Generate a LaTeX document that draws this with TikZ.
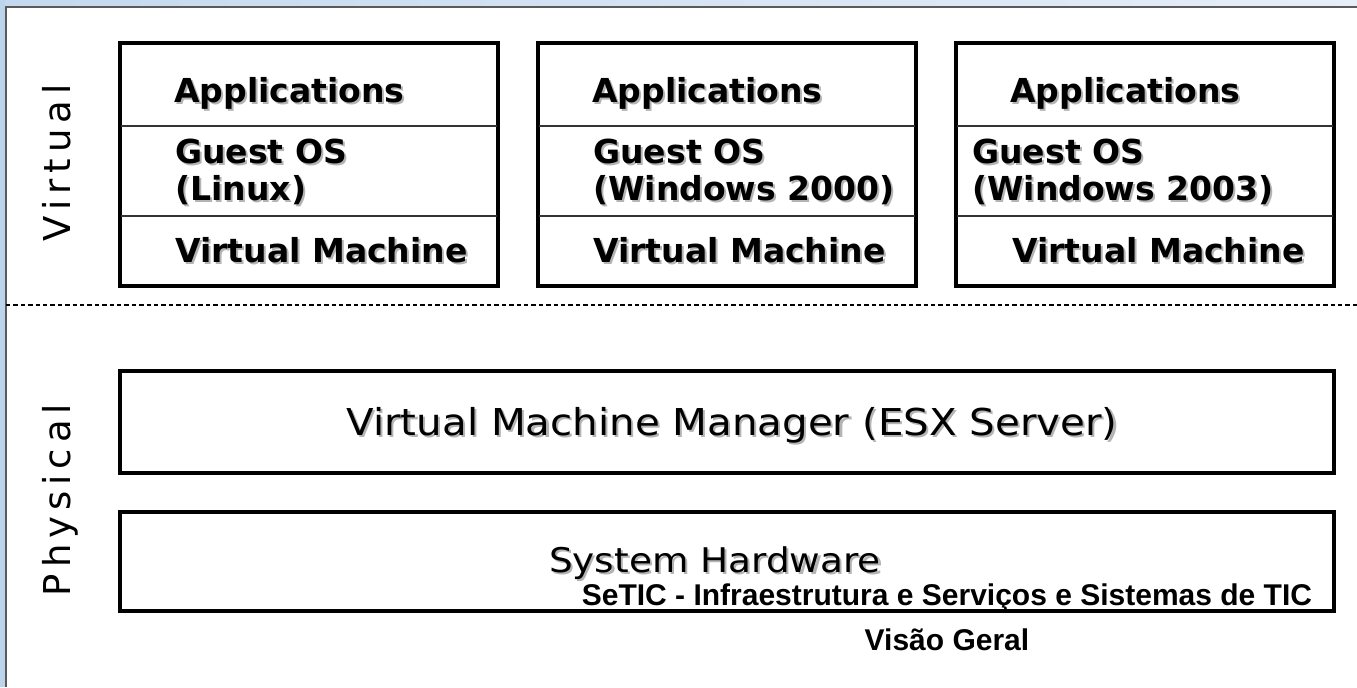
\documentclass[tikz,border=0pt]{standalone}
\usepackage{fontspec}
\setmainfont{DejaVu Sans}
\newfontfamily\arialfont{Liberation Sans}
\usepackage{graphicx}
\definecolor{fbl}{HTML}{C4D9EF}
\definecolor{fbr}{HTML}{E6EEF8}
\definecolor{fstrip}{HTML}{BCD4EC}
\definecolor{framegray}{HTML}{5A5A5A}
\definecolor{sepgray}{HTML}{333333}
\definecolor{shadowgray}{HTML}{B4B4B4}
\newcommand{\shd}[1]{\leavevmode\rlap{\kern1pt\raisebox{-1pt}{\textcolor{shadowgray}{#1}}}#1}
\newcommand{\ls}{\kern3pt}
\tikzset{
  vmbox/.style={draw=black, line width=2pt, fill=white, inner sep=0pt},
  layerbox/.style={draw=black, line width=2pt, fill=white, inner sep=0pt, minimum width=607pt},
  sepline/.style={draw=sepgray, line width=0.75pt},
  btext/.style={inner sep=0pt, anchor=base west, font=\fontsize{16.5}{20}\selectfont\bfseries},
  rtext/.style={inner sep=0pt, anchor=base, font=\fontsize{18.5}{22}\selectfont},
  sidetext/.style={inner sep=0pt, anchor=base, rotate=90, font=\fontsize{18.5}{22}\selectfont},
  captext/.style={inner sep=0pt, anchor=base, font=\fontsize{15}{18}\selectfont\arialfont\bfseries},
  divider/.style={draw=black, line width=0.6pt, dash pattern=on 2.2pt off 1.5pt}
}
\begin{document}
\begin{tikzpicture}[x=0.5pt,y=-0.5pt]
\useasboundingbox (0,0) rectangle (1357,687);
\fill[white] (0,0) rectangle (1357,687);
% window frame
\shade[left color=fbl, right color=fbr] (0,0) rectangle (1357,6);
\fill[fstrip] (0,0) rectangle (5,687);
\draw[framegray, line width=0.8pt] (5.8,687) -- (5.8,6.8) -- (1357,6.8);

% side labels
\node[sidetext] (lvirt) at (70,163) {V\ls i\ls r\ls t\ls u\ls a\ls l};
\node[sidetext] (lphys) at (70,500) {P\ls h\ls y\ls s\ls i\ls c\ls a\ls l};

% virtual machine boxes
\node[vmbox, minimum width=189pt, minimum height=121.5pt] (vm1) at (309,164.5) {};
\node[vmbox, minimum width=189pt, minimum height=121.5pt] (vm2) at (727,164.5) {};
\node[vmbox, minimum width=189pt, minimum height=121.5pt] (vm3) at (1145,164.5) {};
\draw[sepline] (121,126) -- (497,126);
\draw[sepline] (121,216) -- (497,216);
\draw[sepline] (539,126) -- (915,126);
\draw[sepline] (539,216) -- (915,216);
\draw[sepline] (957,126) -- (1333,126);
\draw[sepline] (957,216) -- (1333,216);

\node[btext] (a1) at (174,102) {\shd{Applications}};
\node[btext] (g1) at (175,163) {\shd{Guest OS}};
\node[btext] (o1) at (175,200) {\shd{(Linux)}};
\node[btext] (v1) at (175,262) {\shd{Virtual Machine}};

\node[btext] (a2) at (592,102) {\shd{Applications}};
\node[btext] (g2) at (593,163) {\shd{Guest OS}};
\node[btext] (o2) at (593,200) {\shd{(Windows 2000)}};
\node[btext] (v2) at (593,262) {\shd{Virtual Machine}};

\node[btext] (a3) at (1010,102) {\shd{Applications}};
\node[btext] (g3) at (972,163) {\shd{Guest OS}};
\node[btext] (o3) at (972,200) {\shd{(Windows 2003)}};
\node[btext] (v3) at (1012,262) {\shd{Virtual Machine}};

% divider
\draw[divider] (6,305) -- (1357,305);

% physical layers
\node[layerbox, minimum height=51pt] (vmm) at (727,422) {};
\node[rtext] (vmmt) at (732,435) {\scalebox{1.09}[1]{\shd{Virtual Machine Manager (ESX Server)}}};
\node[layerbox, minimum height=49.5pt] (hw) at (727,561.5) {};
\node[rtext, font=\fontsize{17}{20}\selectfont] (hwt) at (715,572) {\scalebox{1.1}[1]{\shd{System Hardware}}};

% caption
\node[captext] (cap1) at (947,605) {SeTIC - Infraestrutura e Serviços e Sistemas de TIC};
\node[captext] (cap2) at (947,650) {Visão Geral};
\end{tikzpicture}
\end{document}
